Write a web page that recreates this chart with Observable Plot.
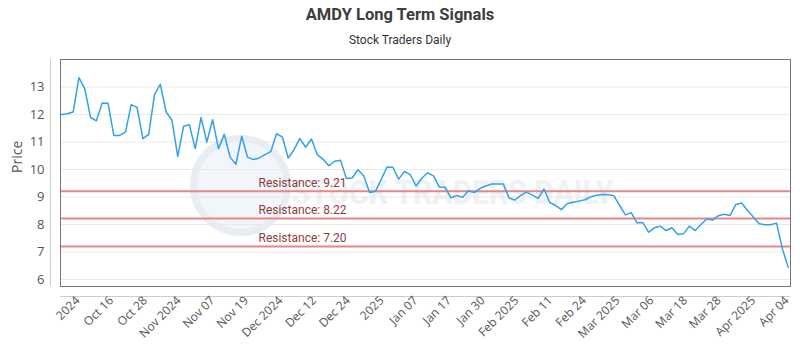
<!DOCTYPE html>
<html>
<head>
<meta charset="utf-8">
<script src="https://cdn.jsdelivr.net/npm/d3@7"></script>
<script src="https://cdn.jsdelivr.net/npm/@observablehq/plot@0.6"></script>
<style>
  body { margin: 0; background: #fff; }
  #wrap { width: 800px; }
  .title { font-family: Roboto, "Open Sans", sans-serif; font-weight: bold; font-size: 16.5px; color: #3d3d3d; text-align: center; height: 30px; line-height: 30px; }
  .subtitle { font-family: Roboto, "Open Sans", sans-serif; font-size: 12px; color: #333; text-align: center; height: 20px; line-height: 20px; }
</style>
</head>
<body>
<div id="wrap">
  <div class="title">AMDY Long Term Signals</div>
  <div class="subtitle">Stock Traders Daily</div>
  <div id="chart"></div>
</div>
<script>
const prices = [
  12.00, 12.03, 12.09, 13.34, 12.94, 11.89, 11.77, 12.42, 12.41, 11.24,
  11.24, 11.36, 12.36, 12.26, 11.12, 11.28, 12.72, 13.10, 12.09, 11.79,
  10.48, 11.57, 11.63, 10.76, 11.89, 11.00, 11.81, 10.76, 11.28, 10.45,
  10.19, 11.21, 10.45, 10.36, 10.42, 10.54, 10.65, 11.30, 11.18, 10.42,
  10.72, 11.13, 10.81, 11.11, 10.54, 10.37, 10.14, 10.30, 10.34, 9.67,
  9.69, 9.99, 9.76, 9.16, 9.21, 9.64, 10.09, 10.08, 9.65, 9.93,
  9.81, 9.40, 9.69, 9.88, 9.77, 9.36, 9.35, 8.97, 9.05, 8.99,
  9.23, 9.16, 9.31, 9.40, 9.47, 9.47, 9.47, 8.96, 8.89, 9.06,
  9.18, 9.07, 8.95, 9.29, 8.80, 8.69, 8.54, 8.76, 8.81, 8.85,
  8.90, 9.00, 9.06, 9.09, 9.08, 9.05, 8.69, 8.35, 8.43, 8.06,
  8.07, 7.72, 7.88, 7.94, 7.78, 7.88, 7.64, 7.66, 7.94, 7.78,
  8.00, 8.20, 8.16, 8.32, 8.37, 8.33, 8.73, 8.78, 8.51, 8.27,
  8.03, 7.99, 7.99, 8.05, 7.12, 6.45
];
const tickPositions = [2.8, 8.6, 14.4, 20.2, 26.0, 31.8, 37.7, 43.5, 49.3, 55.1, 60.9,
  66.7, 72.5, 78.3, 84.1, 89.9, 95.7, 101.5, 107.3, 113.1, 119.0, 124.8];
const tickLabels = ["2024", "Oct 16", "Oct 28", "Nov 2024", "Nov 07", "Nov 19", "Dec 2024",
  "Dec 12", "Dec 24", "2025", "Jan 07", "Jan 17", "Jan 30", "Feb 2025", "Feb 11", "Feb 24",
  "Mar 2025", "Mar 06", "Mar 18", "Mar 28", "Apr 2025", "Apr 04"];
const yTicks = [6, 7, 8, 9, 10, 11, 12, 13];
const resistanceLevels = [9.21, 8.22, 7.20];
const watermark = ["STOCK TRADERS DAILY"];
const xDomain = [-0.17, 125.4];
const yDomain = [5.745, 14.0];

const data = prices.map((v, i) => ({i, v}));

const chart = Plot.plot({
  width: 800,
  height: 300,
  marginTop: 9,
  marginBottom: 64,
  marginLeft: 60,
  marginRight: 10,
  x: {domain: xDomain},
  y: {domain: yDomain},
  style: {fontFamily: "'Open Sans', sans-serif", fontSize: "12px", color: "#555", background: "#fff"},
  marks: [
    Plot.dot([0], {frameAnchor: "top-left", dx: 180, dy: 126, r: 47, fill: "#f2f5f9", stroke: "#e8edf3", strokeWidth: 7}),
    Plot.text(watermark, {frameAnchor: "top-left", dx: 231, dy: 120, textAnchor: "start",
      fontSize: 34, fontWeight: "bold", fill: "#eef1f5", fontFamily: "'Liberation Sans Narrow', Roboto, sans-serif"}),
    Plot.gridY(yTicks, {stroke: "#e9e9e9", strokeOpacity: 1}),
    Plot.ruleY(resistanceLevels, {stroke: "#e88585", strokeWidth: 2}),
    Plot.text(resistanceLevels, {y: d => d, text: d => `Resistance: ${d.toFixed(2)}`, frameAnchor: "left",
      dx: 198, dy: -8, textAnchor: "start", fill: "#8e3b3b", fontSize: 12, fontFamily: "Roboto, sans-serif"}),
    Plot.line(data, {x: "i", y: "v", stroke: "#33a1e6", strokeWidth: 1.5}),
    Plot.frame({stroke: "#777"}),
    Plot.ruleX([xDomain[0]], {dx: -10, stroke: "#ccc"}),
    Plot.ruleY([yDomain[0]], {dy: 10, stroke: "#ccc"}),
    Plot.axisY({ticks: yTicks, tickSize: 0, tickPadding: 16, label: null, fontSize: 13, fill: "#555"}),
    Plot.text(["Price"], {frameAnchor: "left", dx: -43, rotate: -90, fontSize: 14, fill: "#555"}),
    Plot.axisX({ticks: tickPositions, tickFormat: d => tickLabels[tickPositions.indexOf(d)],
      tickRotate: -45, tickSize: 0, tickPadding: 12, label: null, fontSize: 12, fill: "#555"})
  ]
});
document.getElementById("chart").appendChild(chart);
chart.querySelectorAll("text").forEach(t => {
  if (t.textContent === watermark[0]) {
    t.setAttribute("textLength", "322");
    t.setAttribute("lengthAdjust", "spacingAndGlyphs");
  }
});
</script>
</body>
</html>
